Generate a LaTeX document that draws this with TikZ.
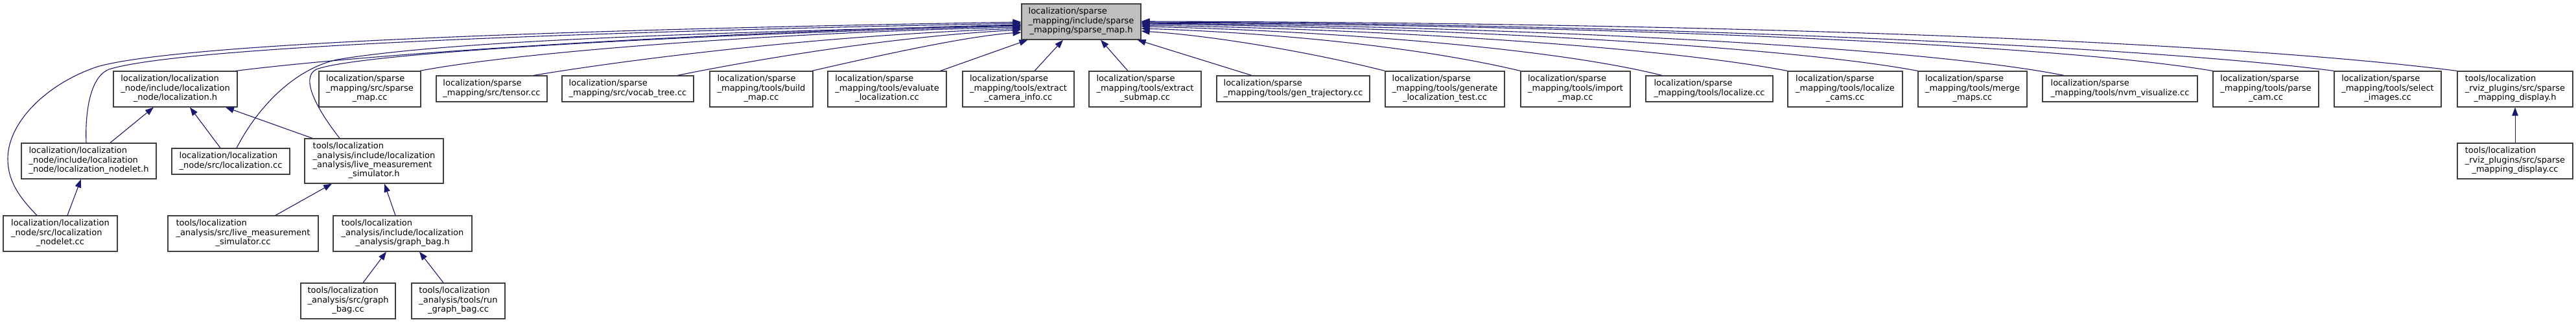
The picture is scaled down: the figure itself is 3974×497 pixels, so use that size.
\documentclass[tikz,border=0pt]{standalone}
\usepackage{fontspec}
\setmainfont{DejaVu Sans}
\usetikzlibrary{arrows.meta,calc}
\definecolor{edgeblue}{HTML}{191970}
\definecolor{boxline}{HTML}{404040}
\definecolor{rootfill}{HTML}{BFBFBF}
\newcommand{\lbl}[2]{\begin{tabular}{@{}l@{}}#1\\\multicolumn{1}{@{}c@{}}{#2}\end{tabular}}
\tikzset{
  filebox/.style={draw=boxline, line width=1.2pt, fill=white, inner sep=0pt,
    font={\fontsize{13pt}{14.4pt}\selectfont}, anchor=center},
  rootbox/.style={filebox, fill=rootfill},
  dep/.style={draw=edgeblue, line width=1.1pt, -{Triangle[length=13pt,width=9.5pt]}}
}
\begin{document}
\begin{tikzpicture}[x=1pt,y=-1pt]
\useasboundingbox (0,0) rectangle (3974,497);
% root
\node[rootbox, minimum width=184pt, minimum height=55pt] (top) at (1668,33.5)
  {\lbl{localization/sparse\\\_mapping/include/sparse}{\_mapping/sparse\_map.h}};
% second row
\node[filebox, minimum width=191pt, minimum height=55pt] (loch) at (270.5,137.5)
  {\lbl{localization/localization\\\_node/include/localization}{\_node/localization.h}};
\node[filebox, minimum width=157pt, minimum height=55pt] (smcc) at (570.5,137.5)
  {\lbl{localization/sparse\\\_mapping/src/sparse}{\_map.cc}};
\node[filebox, minimum width=171pt, minimum height=40pt] (tensor) at (758.5,137)
  {\lbl{localization/sparse}{\_mapping/src/tensor.cc}};
\node[filebox, minimum width=203pt, minimum height=40pt] (vocab) at (968.5,137)
  {\lbl{localization/sparse}{\_mapping/src/vocab\_tree.cc}};
\node[filebox, minimum width=159pt, minimum height=55pt] (build) at (1174.5,137.5)
  {\lbl{localization/sparse\\\_mapping/tools/build}{\_map.cc}};
\node[filebox, minimum width=183pt, minimum height=55pt] (eval) at (1368.5,137.5)
  {\lbl{localization/sparse\\\_mapping/tools/evaluate}{\_localization.cc}};
\node[filebox, minimum width=172pt, minimum height=55pt] (extcam) at (1571,137.5)
  {\lbl{localization/sparse\\\_mapping/tools/extract}{\_camera\_info.cc}};
\node[filebox, minimum width=173pt, minimum height=55pt] (extsub) at (1766.5,137.5)
  {\lbl{localization/sparse\\\_mapping/tools/extract}{\_submap.cc}};
\node[filebox, minimum width=236pt, minimum height=40pt] (gentraj) at (1995,137)
  {\lbl{localization/sparse}{\_mapping/tools/gen\_trajectory.cc}};
\node[filebox, minimum width=184pt, minimum height=55pt] (genloc) at (2229,137.5)
  {\lbl{localization/sparse\\\_mapping/tools/generate}{\_localization\_test.cc}};
\node[filebox, minimum width=169pt, minimum height=55pt] (import) at (2430.5,137.5)
  {\lbl{localization/sparse\\\_mapping/tools/import}{\_map.cc}};
\node[filebox, minimum width=196pt, minimum height=40pt] (localize) at (2637,137)
  {\lbl{localization/sparse}{\_mapping/tools/localize.cc}};
\node[filebox, minimum width=177pt, minimum height=55pt] (loccams) at (2846.5,137.5)
  {\lbl{localization/sparse\\\_mapping/tools/localize}{\_cams.cc}};
\node[filebox, minimum width=168pt, minimum height=55pt] (merge) at (3043,137.5)
  {\lbl{localization/sparse\\\_mapping/tools/merge}{\_maps.cc}};
\node[filebox, minimum width=239pt, minimum height=40pt] (nvm) at (3270.5,137)
  {\lbl{localization/sparse}{\_mapping/tools/nvm\_visualize.cc}};
\node[filebox, minimum width=163pt, minimum height=55pt] (parse) at (3495.5,137.5)
  {\lbl{localization/sparse\\\_mapping/tools/parse}{\_cam.cc}};
\node[filebox, minimum width=165pt, minimum height=55pt] (select) at (3683.5,137.5)
  {\lbl{localization/sparse\\\_mapping/tools/select}{\_images.cc}};
\node[filebox, minimum width=178pt, minimum height=55pt] (rvizh) at (3880,137.5)
  {\lbl{tools/localization\\\_rviz\_plugins/src/sparse}{\_mapping\_display.h}};
% third row
\node[filebox, minimum width=178pt, minimum height=55pt] (rvizcc) at (3880,248.5)
  {\lbl{tools/localization\\\_rviz\_plugins/src/sparse}{\_mapping\_display.cc}};
\node[filebox, minimum width=208pt, minimum height=55pt] (nh) at (137,248.5)
  {\lbl{localization/localization\\\_node/include/localization}{\_node/localization\_nodelet.h}};
\node[filebox, minimum width=182pt, minimum height=40pt] (locc) at (356,249)
  {\lbl{localization/localization}{\_node/src/localization.cc}};
\node[filebox, minimum width=214pt, minimum height=69pt] (lmsh) at (577,248.5)
  {\lbl{tools/localization\\\_analysis/include/localization\\\_analysis/live\_measurement}{\_simulator.h}};
% fourth row
\node[filebox, minimum width=176pt, minimum height=55pt] (ncc) at (93,360.5)
  {\lbl{localization/localization\\\_node/src/localization}{\_nodelet.cc}};
\node[filebox, minimum width=232pt, minimum height=55pt] (lmscc) at (375,360.5)
  {\lbl{tools/localization\\\_analysis/src/live\_measurement}{\_simulator.cc}};
\node[filebox, minimum width=214pt, minimum height=55pt] (gbh) at (621,360.5)
  {\lbl{tools/localization\\\_analysis/include/localization}{\_analysis/graph\_bag.h}};
% fifth row
\node[filebox, minimum width=146pt, minimum height=55pt] (gbcc) at (537,464.5)
  {\lbl{tools/localization\\\_analysis/src/graph}{\_bag.cc}};
\node[filebox, minimum width=144pt, minimum height=55pt] (rungb) at (707,464.5)
  {\lbl{tools/localization\\\_analysis/tools/run}{\_graph\_bag.cc}};

% ---- edges into root, left side
\draw[dep] ($(ncc.north)+(-36,0)$) .. controls (25,300) and (12,275) .. (12,245)
  .. controls (12,190) and (70,130) .. (150,103)
  .. controls (300,60) and (1100,42) .. ($(top.west)+(0,0.5)$);
\draw[dep] ($(nh.north)+(-4,0)$) .. controls (131,170) and (140,118) .. (168,107)
  .. controls (300,66) and (1100,45) .. ($(top.west)+(0,2.5)$);
\draw[dep] ($(loch.north east)+(-3,0)$) .. controls (600,80) and (1100,50) .. ($(top.west)+(0,4.5)$);
\draw[dep] ($(locc.north)+(9,0)$) .. controls (395,170) and (450,108) .. (520,92)
  .. controls (700,62) and (1100,50) .. ($(top.west)+(0,5.5)$);
\draw[dep] ($(lmsh.north)+(-53,0)$) .. controls (490,170) and (462,120) .. (488,107)
  .. controls (560,80) and (1100,52) .. ($(top.west)+(0,6.5)$);
\draw[dep] ($(smcc.north east)+(-2,0)$) .. controls (800,80) and (1200,50) .. ($(top.west)+(0,8.5)$);
\draw[dep] ($(tensor.north)+(64.5,0)$) .. controls (950,95) and (1250,55) .. ($(top.west)+(0,10.5)$);
\draw[dep] ($(vocab.north)+(76.5,0)$) .. controls (1200,85) and (1400,55) .. ($(top.west)+(0,12.5)$);
\draw[dep] ($(build.north east)+(-2,0)$) .. controls (1380,80) and (1500,55) .. ($(top.west)+(0,16.5)$);
% ---- edges into root, bottom
\draw[dep] ($(eval.north east)+(-10,0)$) -- ($(top.south west)+(10,0)$);
\draw[dep] ($(extcam.north)+(25,0)$) -- ($(top.south)+(-28,0)$);
\draw[dep] ($(extsub.north)+(-26.5,0)$) -- ($(top.south)+(30,0)$);
\draw[dep] ($(gentraj.north)+(-64,0)$) -- ($(top.south east)+(-6,0)$);
% ---- edges into root, right side
\draw[dep] (genloc.north west) .. controls (2020,80) and (1870,55) .. ($(top.east)+(0,14.5)$);
\draw[dep] (import.north west) .. controls (2180,70) and (1950,50) .. ($(top.east)+(0,10.5)$);
\draw[dep] ($(localize.north)+(-73,0)$) .. controls (2380,70) and (2000,46) .. ($(top.east)+(0,7.5)$);
\draw[dep] (loccams.north west) .. controls (2550,70) and (2100,44) .. ($(top.east)+(0,5.5)$);
\draw[dep] (merge.north west) .. controls (2750,70) and (2200,42) .. ($(top.east)+(0,3.5)$);
\draw[dep] ($(nvm.north)+(-86.5,0)$) .. controls (2950,70) and (2300,40) .. ($(top.east)+(0,2.5)$);
\draw[dep] (parse.north west) .. controls (3150,65) and (2400,38) .. ($(top.east)+(0,1.5)$);
\draw[dep] (select.north west) .. controls (3300,70) and (2500,36) .. ($(top.east)+(0,0.5)$);
\draw[dep] (rvizh.north west) .. controls (3400,60) and (2600,35) .. ($(top.east)+(0,-0.5)$);
% ---- other edges
\draw[dep] ($(nh.north)+(33,0)$) -- ($(loch.south)+(-33.5,0)$);
\draw[dep] ($(locc.north)+(-16,0)$) -- ($(loch.south)+(22.5,0)$);
\draw[dep] ($(lmsh.north)+(-95,0)$) -- ($(loch.south)+(77.5,0)$);
\draw[dep] ($(ncc.north)+(11,0)$) -- ($(nh.south)+(-12,0)$);
\draw[dep] ($(lmscc.north)+(50,0)$) -- ($(lmsh.south)+(-65,0)$);
\draw[dep] ($(gbh.north)+(-11,0)$) -- ($(lmsh.south)+(16,0)$);
\draw[dep] ($(gbcc.north)+(23,0)$) -- ($(gbh.south)+(-25,0)$);
\draw[dep] ($(rungb.north)+(-23,0)$) -- ($(gbh.south)+(26,0)$);
\draw[dep] (rvizcc.north) -- (rvizh.south);
\end{tikzpicture}
\end{document}
